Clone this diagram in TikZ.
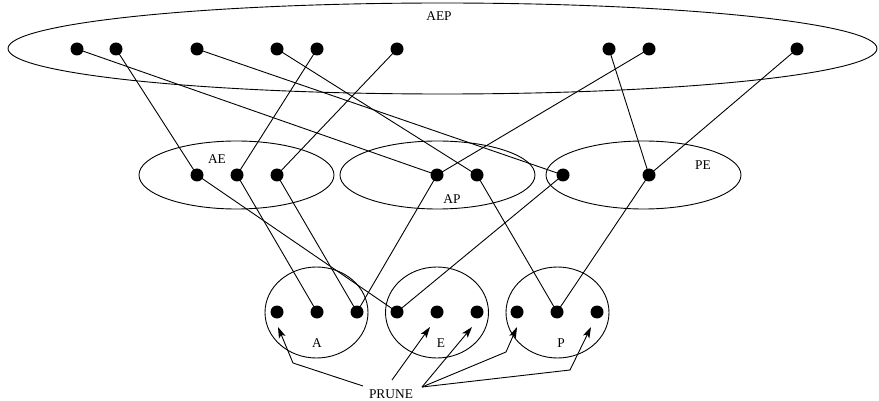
\documentclass[tikz,border=0pt]{standalone}
\usepackage{fontspec}
\setmainfont{Liberation Serif}
\usetikzlibrary{shapes.geometric,arrows.meta,calc}
\begin{document}
\begin{tikzpicture}[x=1pt,y=-1pt,
  dot/.style={circle,fill=black,draw=none,minimum size=13pt,inner sep=0pt},
  set/.style={ellipse,draw,line width=0.9pt,inner sep=0pt},
  lbl/.style={font=\fontsize{13.4}{16}\selectfont,inner sep=0pt},
  edge/.style={line width=0.9pt},
  pr/.style={line width=0.9pt,-{Stealth[length=11pt,width=7pt,inset=2.5pt]}}]
\useasboundingbox (0,0) rectangle (879,401);
% sets
\node[set,minimum width=869pt,minimum height=91pt] (AEP) at (442.5,48.5) {};
\node[set,minimum width=195pt,minimum height=68pt] (AE) at (236.5,175) {};
\node[set,minimum width=195pt,minimum height=68pt] (AP) at (437.5,175) {};
\node[set,minimum width=195pt,minimum height=68pt] (PE) at (643.5,175) {};
\node[set,minimum width=103pt,minimum height=91pt] (A) at (316.5,312.5) {};
\node[set,minimum width=103pt,minimum height=91pt] (E) at (437,312.5) {};
\node[set,minimum width=103pt,minimum height=91pt] (P) at (557.5,312.5) {};
% labels
\node[lbl] (lAEP) at (439,16) {AEP};
\node[lbl] (lAE) at (217,159) {AE};
\node[lbl] (lAP) at (452,199) {AP};
\node[lbl] (lPE) at (703,165) {PE};
\node[lbl] (lA) at (317,343) {A};
\node[lbl] (lE) at (441,343) {E};
\node[lbl] (lP) at (561,343) {P};
\node[lbl] (prune) at (391,394) {PRUNE};
% top dots
\node[dot] (t1) at (77,49) {};
\node[dot] (t2) at (116,49) {};
\node[dot] (t3) at (197,49) {};
\node[dot] (t4) at (277,49) {};
\node[dot] (t5) at (317,49) {};
\node[dot] (t6) at (397,49) {};
\node[dot] (t7) at (609,49) {};
\node[dot] (t8) at (649,49) {};
\node[dot] (t9) at (797,49) {};
% middle dots
\node[dot] (ae1) at (197,175) {};
\node[dot] (ae2) at (237,175) {};
\node[dot] (ae3) at (277,175) {};
\node[dot] (ap1) at (437,175) {};
\node[dot] (ap2) at (477,175) {};
\node[dot] (pe1) at (563,175) {};
\node[dot] (pe2) at (649,175) {};
% bottom dots
\node[dot] (a1) at (277,312) {};
\node[dot] (a2) at (317,312) {};
\node[dot] (a3) at (357,312) {};
\node[dot] (e1) at (397,312) {};
\node[dot] (e2) at (437,312) {};
\node[dot] (e3) at (477,312) {};
\node[dot] (p1) at (517,312) {};
\node[dot] (p2) at (557,312) {};
\node[dot] (p3) at (597,312) {};
% edges
\draw[edge] (t1.center) -- (ap1.center);
\draw[edge] (t2.center) -- (ae1.center);
\draw[edge] (t3.center) -- (pe1.center);
\draw[edge] (t4.center) -- (ap2.center);
\draw[edge] (t5.center) -- (ae2.center);
\draw[edge] (t6.center) -- (ae3.center);
\draw[edge] (t7.center) -- (pe2.center);
\draw[edge] (t8.center) -- (ap1.center);
\draw[edge] (t9.center) -- (pe2.center);
\draw[edge] (ae1.center) -- (e1.center);
\draw[edge] (ae2.center) -- (a2.center);
\draw[edge] (ae3.center) -- (a3.center);
\draw[edge] (ap1.center) -- (a3.center);
\draw[edge] (ap2.center) -- (p2.center);
\draw[edge] (pe1.center) -- (e1.center);
\draw[edge] (pe2.center) -- (p2.center);
% prune arrows
\coordinate (s1) at (363,386);
\coordinate (s2) at (392,380);
\coordinate (s3) at (422,387);
\draw[pr] (s1) -- (293,363) -- ($(a1)+(1,15)$);
\draw[pr] (s2) -- ($(e2)+(-7,15)$);
\draw[pr] (s3) -- ($(e3)+(-5,15)$);
\draw[pr] (s3) -- (506,352) -- ($(p1)+(0,15)$);
\draw[pr] (s3) -- (570,370) -- ($(p3)+(-6,15)$);
\end{tikzpicture}
\end{document}
